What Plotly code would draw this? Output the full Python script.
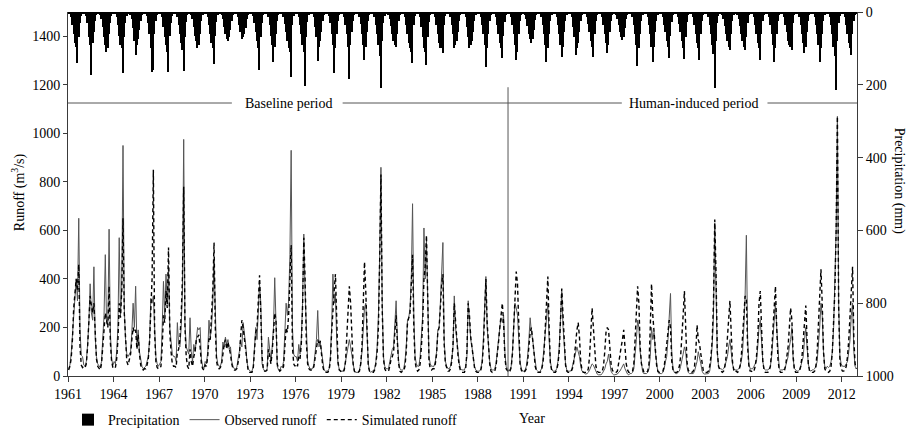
import plotly.graph_objects as go

years = list(range(1961, 2013))
xtick_years = list(range(1961, 2013, 3))
runoff_ticks = [0, 200, 400, 600, 800, 1000, 1200, 1400]
precip_ticks = [0, 200, 400, 600, 800, 1000]

# Monthly precipitation (mm), one row per year (Jan..Dec)
precip_mm = [
    [4,6,15,35,60,85,95,141,70,30,10,4],
    [3,5,12,30,70,90,173,85,55,25,8,3],
    [5,8,20,40,70,90,110,100,60,30,10,4],
    [4,6,15,35,65,90,100,167,70,30,10,4],
    [5,8,20,45,80,118,90,75,50,25,8,3],
    [3,5,12,30,60,100,164,160,60,25,8,3],
    [4,6,15,40,70,90,110,164,65,30,10,4],
    [4,6,15,35,60,85,105,162,70,28,9,3],
    [5,8,18,40,65,80,100,90,60,25,8,3],
    [4,6,15,35,60,85,100,143,65,28,9,3],
    [5,8,20,40,60,75,80,70,50,25,8,3],
    [4,6,15,35,55,75,70,60,45,20,7,3],
    [3,5,12,30,55,80,100,160,70,30,9,3],
    [4,6,15,35,65,90,136,95,60,25,8,3],
    [4,6,14,32,55,80,100,110,178,35,10,4],
    [4,6,15,35,60,90,110,203,70,28,9,3],
    [4,6,15,40,70,135,95,80,55,25,8,3],
    [3,5,12,30,60,90,167,100,60,25,8,3],
    [4,6,15,35,60,95,184,90,55,25,8,3],
    [4,6,14,32,60,90,132,95,55,25,8,3],
    [4,6,15,35,60,90,120,209,80,30,10,4],
    [5,8,18,38,60,80,90,96,60,25,8,3],
    [4,6,15,35,60,85,100,110,140,35,10,4],
    [4,6,15,40,70,100,110,146,70,28,9,3],
    [4,6,15,35,60,85,100,100,113,35,10,4],
    [4,6,15,35,60,99,90,80,55,25,8,3],
    [4,6,15,40,70,99,90,80,55,25,8,3],
    [4,6,15,35,60,90,151,100,60,25,8,3],
    [4,6,15,35,60,85,100,126,65,28,9,3],
    [4,6,15,35,60,90,132,110,60,25,8,3],
    [5,8,18,38,60,75,85,75,50,22,7,3],
    [4,6,15,35,60,90,137,100,60,25,8,3],
    [4,6,15,35,60,90,124,95,55,25,8,3],
    [4,6,15,40,70,118,100,85,55,25,8,3],
    [4,6,14,32,55,80,95,124,60,25,8,3],
    [4,6,15,35,60,85,113,90,55,25,8,3],
    [5,8,18,35,55,70,77,70,45,20,7,3],
    [4,6,15,35,60,90,148,100,60,25,8,3],
    [4,6,15,35,60,95,137,95,55,25,8,3],
    [4,6,15,35,55,80,95,127,65,28,9,3],
    [4,6,14,32,55,80,100,130,70,28,9,3],
    [4,6,15,35,60,85,100,132,60,25,8,3],
    [4,6,15,35,60,90,115,209,80,30,10,4],
    [5,8,18,38,60,80,95,104,60,25,8,3],
    [5,8,18,38,60,80,95,104,70,30,9,3],
    [4,6,15,35,60,85,100,132,60,25,8,3],
    [4,6,15,35,60,90,137,100,60,25,8,3],
    [4,6,15,35,55,80,90,95,104,30,9,3],
    [4,6,15,35,60,85,113,95,55,25,8,3],
    [4,6,15,35,60,90,137,100,60,25,8,3],
    [4,6,15,35,60,95,120,214,80,30,10,4],
    [4,6,15,35,60,85,100,118,60,25,8,3],
]

# Observed monthly runoff (m3/s)
observed_runoff = [
    [30,45,90,160,260,330,400,310,650,190,85,80],
    [45,40,60,130,220,380,260,230,450,160,80,50],
    [40,35,60,150,250,500,220,210,605,180,70,45],
    [60,50,100,200,570,250,360,950,280,150,90,80],
    [90,100,180,300,200,370,120,190,100,60,40,30],
    [35,40,60,80,150,320,300,330,200,80,50,40],
    [50,60,200,390,250,420,300,450,200,140,90,80],
    [80,60,220,130,120,200,350,975,220,120,100,90],
    [240,100,60,130,100,170,200,190,200,70,40,30],
    [60,50,100,230,160,200,300,480,220,80,50,40],
    [40,60,140,120,160,130,150,110,120,60,40,30],
    [30,35,70,100,150,120,220,180,130,60,30,25],
    [15,20,40,120,200,150,250,380,300,50,30,20],
    [20,30,160,100,60,120,200,405,150,40,25,20],
    [40,35,60,170,300,250,310,500,930,200,90,80],
    [80,60,130,90,150,300,585,350,150,60,40,30],
    [30,30,50,100,150,270,120,140,100,50,25,20],
    [20,20,30,80,200,420,300,340,150,50,30,20],
    [20,20,30,60,100,130,150,120,80,40,20,15],
    [15,15,25,50,100,200,280,300,150,50,20,15],
    [20,20,30,60,120,250,500,860,300,80,40,30],
    [30,30,60,90,110,120,200,310,150,60,30,25],
    [25,30,60,120,230,240,280,400,710,250,80,50],
    [40,40,80,150,250,610,400,560,250,80,50,40],
    [40,40,60,100,190,200,300,400,550,150,60,40],
    [30,30,40,70,120,330,200,150,100,50,30,25],
    [25,25,40,80,310,200,150,120,80,40,25,20],
    [20,20,30,60,150,300,410,200,120,60,30,25],
    [25,30,50,90,150,200,240,220,250,100,40,30],
    [20,25,40,100,200,300,280,250,150,60,30,20],
    [20,25,40,80,150,240,180,150,100,50,25,20],
    [15,20,30,60,120,200,250,300,150,60,30,20],
    [20,20,30,60,120,250,350,200,120,50,25,20],
    [20,20,30,50,80,100,120,100,80,40,20,15],
    [10,8,10,15,25,40,50,45,30,15,8,5],
    [5,5,10,20,30,50,60,90,50,20,10,5],
    [5,5,8,15,20,30,40,50,30,15,8,5],
    [10,10,15,30,80,150,230,200,100,40,15,10],
    [10,10,15,30,80,200,150,180,100,40,15,10],
    [10,10,15,30,60,80,150,230,340,100,30,15],
    [10,10,15,20,40,60,90,120,100,40,15,10],
    [10,8,10,20,40,60,100,80,50,20,10,8],
    [8,8,10,20,60,130,250,630,400,100,40,30],
    [30,25,30,40,60,80,120,150,100,50,30,25],
    [25,25,30,40,60,100,200,330,580,150,50,30],
    [30,30,40,50,60,120,200,230,150,60,30,25],
    [25,25,30,40,80,150,250,300,200,80,30,25],
    [25,25,30,40,60,80,120,150,200,70,30,25],
    [20,20,25,40,60,80,150,200,120,50,25,20],
    [25,25,30,40,60,120,200,300,250,100,40,30],
    [40,35,40,60,100,200,400,600,1070,300,80,50],
    [40,40,40,50,60,100,150,250,300,100,40,30],
]

# Simulated monthly runoff (m3/s)
simulated_runoff = [
    [25,40,70,150,280,360,400,350,460,120,45,35],
    [40,35,50,120,250,330,290,260,300,150,70,40],
    [30,25,50,110,200,260,230,200,370,140,60,35],
    [40,35,70,150,300,240,350,650,260,120,60,45],
    [70,90,150,200,180,190,110,170,90,45,30,25],
    [30,30,45,70,140,300,400,850,180,60,35,30],
    [30,40,120,250,220,350,280,530,180,100,50,40],
    [40,35,100,110,150,250,400,780,200,80,40,30],
    [110,60,40,80,100,150,160,170,120,50,30,25],
    [45,40,80,160,150,240,350,550,200,60,35,30],
    [35,50,100,130,150,110,140,120,90,50,30,25],
    [25,30,50,80,160,230,200,150,90,40,20,15],
    [15,15,30,90,180,200,300,415,250,80,30,20],
    [20,25,110,80,50,100,180,260,230,50,30,20],
    [25,25,40,120,200,180,250,400,540,120,50,40],
    [50,40,80,70,130,280,570,400,140,50,30,25],
    [25,25,40,80,120,150,130,145,90,40,20,15],
    [15,15,25,60,180,300,350,420,200,60,25,20],
    [15,15,25,60,150,280,370,300,150,50,20,15],
    [15,15,20,50,120,300,470,350,150,40,20,15],
    [15,15,25,50,100,200,480,830,280,70,30,20],
    [20,20,40,70,80,100,180,250,140,50,20,15],
    [20,20,40,100,220,240,260,380,500,200,60,30],
    [20,25,50,120,220,400,450,580,220,60,30,25],
    [30,30,50,90,180,200,280,380,420,130,50,30],
    [20,20,30,60,130,300,220,140,80,40,20,15],
    [15,15,30,100,300,250,160,110,70,35,20,15],
    [15,15,25,50,120,280,400,220,110,50,20,15],
    [20,20,40,80,140,200,260,300,220,80,30,20],
    [15,20,35,90,220,350,430,380,150,50,25,15],
    [15,20,30,60,120,180,200,160,100,40,20,15],
    [15,15,25,50,100,200,300,410,200,50,25,15],
    [15,15,25,50,100,220,360,250,120,45,20,15],
    [15,15,25,40,80,150,190,220,160,60,25,15],
    [15,12,15,30,80,180,280,200,100,40,20,15],
    [15,15,20,40,100,180,200,190,120,50,25,15],
    [15,15,20,60,100,120,150,190,120,50,25,15],
    [15,15,20,50,150,260,370,300,120,50,25,15],
    [15,15,20,50,200,380,250,180,100,45,20,15],
    [15,15,20,40,80,120,180,230,200,60,25,15],
    [15,15,20,40,80,150,250,350,200,60,25,15],
    [15,15,20,40,100,210,150,130,90,40,20,15],
    [15,15,20,40,80,150,300,645,420,100,40,25],
    [20,15,20,40,80,150,250,310,180,60,25,15],
    [20,15,20,40,80,150,250,330,320,120,40,20],
    [20,15,20,40,80,150,300,350,200,60,25,15],
    [15,15,20,40,100,200,300,370,200,70,25,15],
    [15,15,20,40,80,120,200,280,230,80,25,15],
    [15,15,20,40,80,150,250,290,150,50,20,15],
    [15,15,20,40,100,200,350,440,300,100,30,20],
    [20,15,20,40,100,200,350,600,1070,280,60,30],
    [20,20,25,40,80,150,250,350,450,150,50,30],
]

x_month = [yr + (m + 0.5) / 12 for yr in years for m in range(12)]
p_flat = [v for row in precip_mm for v in row]
obs_flat = [v for row in observed_runoff for v in row]
sim_flat = [v for row in simulated_runoff for v in row]

FONT = "Liberation Serif, Times New Roman, serif"
AXC = "#3a3a3a"

fig = go.Figure()
fig.add_trace(go.Bar(x=x_month, y=p_flat, yaxis="y2", name="Precipitation",
                     marker=dict(color="black", line=dict(width=0)), width=1/12))
fig.add_trace(go.Scatter(x=x_month, y=obs_flat, mode="lines", name="Observed runoff",
                         line=dict(color="#555555", width=1)))
fig.add_trace(go.Scatter(x=x_month, y=sim_flat, mode="lines", name="Simulated runoff",
                         line=dict(color="black", width=1.4, dash="4px,3px")))

shapes = []
for x0, x1 in [(1961, 1971.8), (1979.1, 1997.5), (2007.1, 2013)]:
    shapes.append(dict(type="line", xref="x", yref="y", x0=x0, x1=x1, y0=1125, y1=1125,
                       line=dict(color="#555555", width=1)))
shapes.append(dict(type="line", xref="x", yref="y", x0=1990, x1=1990, y0=0, y1=1190,
                   line=dict(color="#555555", width=1)))

annotations = [
    dict(text="Baseline period", x=1975.5, y=1125, xref="x", yref="y", showarrow=False,
         xanchor="center", yanchor="middle",
         font=dict(family=FONT, size=14, color="black")),
    dict(text="Human-induced period", x=2002.25, y=1125, xref="x", yref="y", showarrow=False,
         xanchor="center", yanchor="middle",
         font=dict(family=FONT, size=14, color="black")),
    dict(text="Runoff (m<sup>3</sup>/s)", x=-0.0634, y=0.505, xref="paper", yref="paper",
         showarrow=False, textangle=-90, xanchor="center", yanchor="middle",
         font=dict(family=FONT, size=14, color="black")),
    dict(text="Precipitation (mm)", x=1.0535, y=0.536, xref="paper", yref="paper",
         showarrow=False, textangle=90, xanchor="center", yanchor="middle",
         font=dict(family=FONT, size=14, color="black")),
    dict(text="Year", x=0.588, y=-0.117, xref="paper", yref="paper", showarrow=False,
         xanchor="center", yanchor="middle",
         font=dict(family=FONT, size=14, color="black")),
]

fig.update_layout(
    width=909, height=430,
    margin=dict(l=68, r=52, t=12, b=54, autoexpand=False),
    paper_bgcolor="white", plot_bgcolor="white",
    font=dict(family=FONT, size=14, color="black"),
    bargap=0,
    showlegend=True,
    legend=dict(orientation="h", x=0.0, xanchor="left", y=-0.121, yanchor="middle",
                font=dict(family=FONT, size=14, color="black"), bgcolor="rgba(0,0,0,0)",
                itemwidth=30, tracegroupgap=0),
    xaxis=dict(range=[1961, 2013], tickmode="array", tickvals=xtick_years,
               ticktext=[str(v) for v in xtick_years], ticks="outside", ticklen=5,
               tickcolor=AXC, showline=True, linecolor=AXC, linewidth=1,
               showgrid=False, zeroline=False, tickfont=dict(size=14)),
    yaxis=dict(range=[0, 1500], tickmode="array", tickvals=runoff_ticks, ticks="outside",
               ticklen=4, tickcolor=AXC, showline=True, linecolor=AXC, linewidth=1,
               showgrid=False, zeroline=False, tickfont=dict(size=14)),
    yaxis2=dict(range=[1000, 0], overlaying="y", side="right", tickmode="array",
                tickvals=precip_ticks, ticks="outside", ticklen=5, tickcolor=AXC,
                showline=True, linecolor=AXC, linewidth=1, showgrid=False,
                zeroline=False, tickfont=dict(size=14)),
    shapes=shapes,
    annotations=annotations,
)

fig.write_html("out.html")
